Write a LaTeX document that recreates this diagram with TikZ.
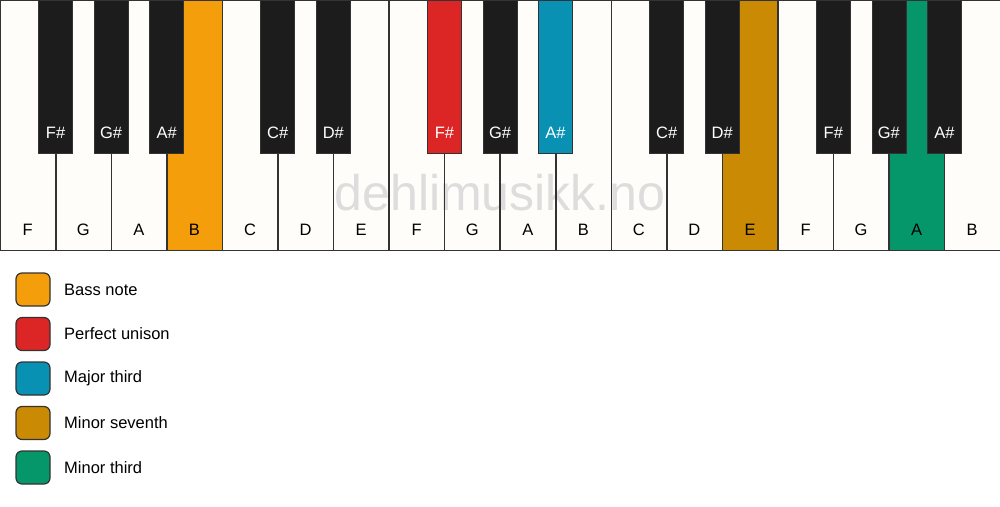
\documentclass[tikz,border=0pt]{standalone}
\usepackage{fontspec}
\setmainfont{Liberation Sans}
\definecolor{keyw}{HTML}{FEFDF9}
\definecolor{keyb}{HTML}{1C1C1C}
\definecolor{edge}{HTML}{333333}
\definecolor{bass}{HTML}{F59E0B}
\definecolor{unison}{HTML}{DC2626}
\definecolor{majthird}{HTML}{0891B2}
\definecolor{minsev}{HTML}{CA8A04}
\definecolor{minthird}{HTML}{059669}
\definecolor{wm}{HTML}{DDDDDD}
\tikzset{
  whitekey/.style={rectangle, anchor=north west, inner sep=0pt, minimum width=55.5556pt, minimum height=250pt},
  keyedge/.style={draw=edge, line width=1.2pt},
  blackkey/.style={rectangle, draw=edge, line width=0.8pt, anchor=north, inner sep=0pt, minimum width=34pt, minimum height=153pt},
  wlabel/.style={font=\fontsize{16.5}{20}\selectfont, text=black, inner sep=0pt},
  blabel/.style={font=\fontsize{16.5}{20}\selectfont, text=white, inner sep=0pt},
  legbox/.style={rectangle, rounded corners=6pt, draw=edge, line width=1.2pt, minimum width=34pt, minimum height=33pt, inner sep=0pt},
  legtext/.style={font=\fontsize{16.5}{20}\selectfont, anchor=west, inner sep=0pt},
}
\begin{document}
\begin{tikzpicture}[x=1pt,y=-1pt]
\useasboundingbox[fill=white] (0,0) rectangle (1000,506);
\def\W{55.5556}
\foreach \n/\c [count=\i from 0] in {F/keyw,G/keyw,A/keyw,B/bass,C/keyw,D/keyw,E/keyw,F/keyw,G/keyw,A/keyw,B/keyw,C/keyw,D/keyw,E/minsev,F/keyw,G/keyw,A/minthird,B/keyw}{
  \node[whitekey, fill=\c] (w\i) at (\i*\W,0) {};
}
\node[font=\fontsize{50}{56}\selectfont, text=wm, inner sep=0pt] (wmark) at (500,193) {dehlimusikk.no};
\foreach \n [count=\i from 0] in {F,G,A,B,C,D,E,F,G,A,B,C,D,E,F,G,A,B}{
  \draw[keyedge] (w\i.north west) rectangle (w\i.south east);
  \node[wlabel] (wl\i) at (\i*\W+\W/2,230) {\n};
}
\foreach \b/\n/\c in {1/F/keyb,2/G/keyb,3/A/keyb,5/C/keyb,6/D/keyb,8/F/unison,9/G/keyb,10/A/majthird,12/C/keyb,13/D/keyb,15/F/keyb,16/G/keyb,17/A/keyb}{
  \node[blackkey, fill=\c] (b\b) at (\b*\W,0) {};
  \node[blabel] (bl\b) at (\b*\W,133) {\n\#};
}
\foreach \c/\t [count=\j from 0] in {bass/Bass note,unison/Perfect unison,majthird/Major third,minsev/Minor seventh,minthird/Minor third}{
  \node[legbox, fill=\c] (lb\j) at (33,289.5+\j*44.5) {};
  \node[legtext] (lt\j) at (64,289.5+\j*44.5) {\t};
}
\end{tikzpicture}
\end{document}
